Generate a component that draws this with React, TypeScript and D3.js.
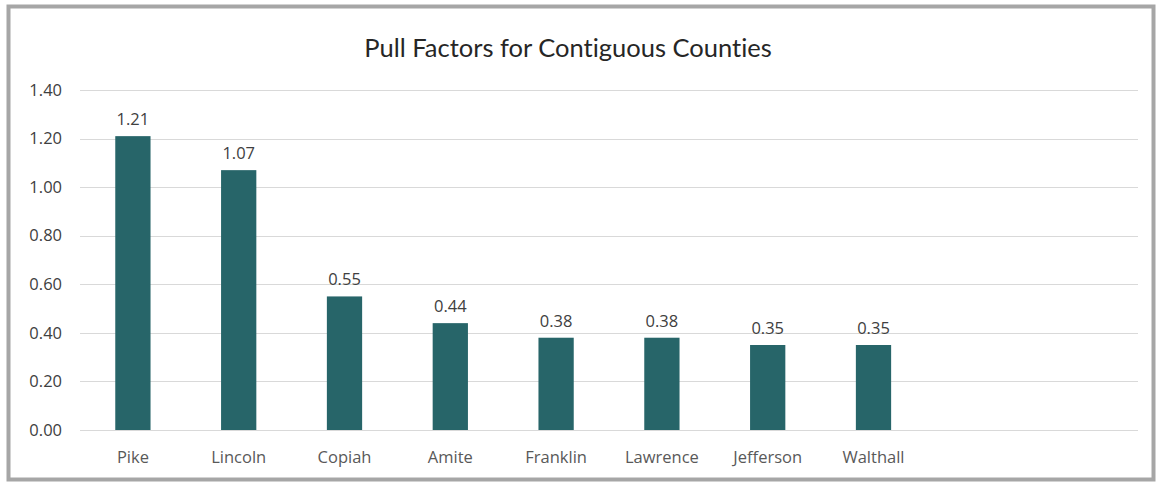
import { useEffect, useRef } from "react";
import * as d3 from "d3";

const counties = ["Pike", "Lincoln", "Copiah", "Amite", "Franklin", "Lawrence", "Jefferson", "Walthall", "", " "];
const pullFactors = [1.21, 1.07, 0.55, 0.44, 0.38, 0.38, 0.35, 0.35];
const yTicks = [0, 0.2, 0.4, 0.6, 0.8, 1.0, 1.2, 1.4];

const W = 1157;
const H = 482;

export default function App() {
  const svgRef = useRef<SVGSVGElement>(null);

  useEffect(() => {
    document.body.style.margin = "0";
    const svg = d3.select(svgRef.current);
    svg.selectAll("*").remove();

    const margin = { top: 90, right: 19, bottom: 52, left: 80 };
    const width = W - margin.left - margin.right;
    const height = H - margin.top - margin.bottom;

    svg.append("rect").attr("width", W).attr("height", H).attr("fill", "#fff");

    // outer frame
    svg
      .append("rect")
      .attr("x", 8.5)
      .attr("y", 6.5)
      .attr("width", 1145)
      .attr("height", 473)
      .attr("fill", "none")
      .attr("stroke", "#a6a6a6")
      .attr("stroke-width", 4);

    svg
      .append("text")
      .attr("x", 568)
      .attr("y", 57)
      .attr("text-anchor", "middle")
      .attr("font-family", "Lato, 'Open Sans', sans-serif")
      .attr("font-size", 25.5)
      .attr("fill", "#262626")
      .style("font-variant-ligatures", "none")
      .text("Pull Factors for Contiguous Counties");

    const g = svg.append("g").attr("transform", `translate(${margin.left},${margin.top})`);

    const x = d3.scaleBand<string>().domain(counties).range([0, width]).paddingInner(2 / 3).paddingOuter(1 / 3);
    const band = d3.scaleBand<string>().domain(counties).range([0, width]);
    const y = d3.scaleLinear().domain([0, 1.4]).range([height, 0]);

    // gridlines
    g.selectAll("line.grid")
      .data(yTicks)
      .enter()
      .append("line")
      .attr("class", "grid")
      .attr("x1", 0)
      .attr("x2", width)
      .attr("y1", (d) => Math.round(y(d)) + 0.5)
      .attr("y2", (d) => Math.round(y(d)) + 0.5)
      .attr("stroke", "#d9d9d9")
      .attr("stroke-width", 1.2);

    // y axis labels
    g.selectAll("text.ytick")
      .data(yTicks)
      .enter()
      .append("text")
      .attr("class", "ytick")
      .attr("x", -18)
      .attr("y", (d) => y(d))
      .attr("dy", "0.35em")
      .attr("text-anchor", "end")
      .attr("font-family", "'Open Sans', sans-serif")
      .attr("font-size", 16.5)
      .attr("fill", "#404040")
      .text((d) => d.toFixed(2));

    const data = pullFactors.map((v, i) => ({ name: counties[i], value: v }));

    g.selectAll("rect.bar")
      .data(data)
      .enter()
      .append("rect")
      .attr("class", "bar")
      .attr("x", (d) => x(d.name) || 0)
      .attr("y", (d) => y(d.value))
      .attr("width", x.bandwidth())
      .attr("height", (d) => height - y(d.value))
      .attr("fill", "#276569");

    g.selectAll("text.val")
      .data(data)
      .enter()
      .append("text")
      .attr("class", "val")
      .attr("x", (d) => (x(d.name) || 0) + x.bandwidth() / 2)
      .attr("y", (d) => y(d.value) - 11)
      .attr("text-anchor", "middle")
      .attr("font-family", "'Open Sans', sans-serif")
      .attr("font-size", 16.5)
      .attr("fill", "#404040")
      .text((d) => d.value.toFixed(2));

    // x labels
    g.selectAll("text.xtick")
      .data(counties)
      .enter()
      .append("text")
      .attr("class", "xtick")
      .attr("x", (d) => (band(d) || 0) + band.bandwidth() / 2)
      .attr("y", height + 33)
      .attr("text-anchor", "middle")
      .attr("font-family", "'Open Sans', sans-serif")
      .attr("font-size", 16.5)
      .attr("fill", "#595959")
      .text((d) => d.trim());
  }, []);

  return <svg ref={svgRef} width={W} height={H} style={{ display: "block" }} />;
}
